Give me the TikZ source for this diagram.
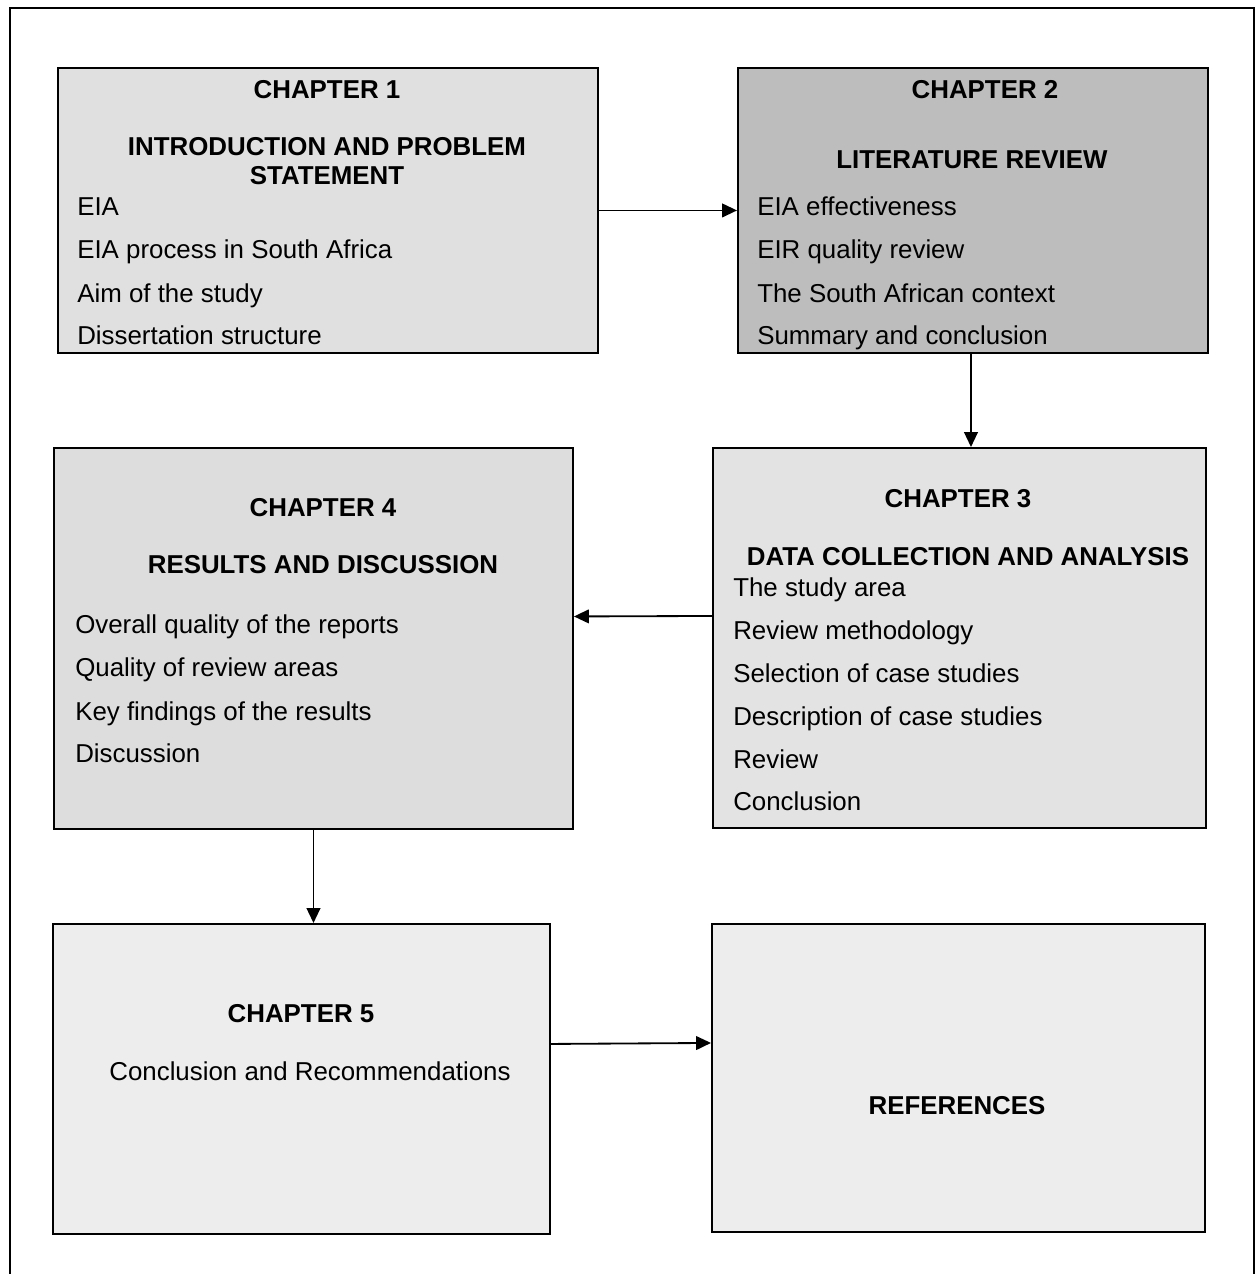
\documentclass[tikz,border=0pt]{standalone}
\usepackage{fontspec}
\setmainfont{Liberation Sans}
\usetikzlibrary{arrows.meta,positioning}

\begin{document}
\begin{tikzpicture}[
    x=0.025cm, y=-0.025cm,
    >={Triangle[length=3.7mm,width=3.4mm]},
    chap/.style={rectangle, draw=black, line width=1.3pt, anchor=north west, inner sep=0pt},
    head/.style={font=\fontsize{18.4}{19.9}\selectfont\bfseries, anchor=base, inner sep=0pt},
    item/.style={font=\fontsize{18.4}{22}\selectfont, anchor=base west, inner sep=0pt},
    link/.style={->, line width=1.3pt}
]
\useasboundingbox (0,0) rectangle (1257,1274);

% Outer frame
\draw[line width=1.3pt] (10,1274) -- (10,8) -- (1254,8) -- (1254,1274);

% Chapter boxes
\node[chap, fill=gray!24, minimum width=13.5cm, minimum height=7.125cm] (ch1) at (57,67) {};
\node[chap, fill=gray!52, minimum width=11.75cm, minimum height=7.125cm] (ch2) at (737,67) {};
\node[chap, fill=gray!22, minimum width=12.325cm, minimum height=9.5cm] (ch3) at (712,447) {};
\node[chap, fill=gray!27, minimum width=12.975cm, minimum height=9.525cm] (ch4) at (53,447) {};
\node[chap, fill=gray!14, minimum width=12.425cm, minimum height=7.75cm] (ch5) at (52,923) {};
\node[chap, fill=gray!14, minimum width=12.325cm, minimum height=7.7cm] (refs) at (711,923) {};

% Chapter 1
\node[head] (ch1a) at (327,99) {CHAPTER 1};
\node[head] (ch1b) at (327,156) {INTRODUCTION AND PROBLEM};
\node[head] (ch1c) at (327,184) {STATEMENT};
\node[item] (ch1i1) at (77,215) {EIA};
\node[item] (ch1i2) at (77,258) {EIA process in South Africa};
\node[item] (ch1i3) at (77,302) {Aim of the study};
\node[item] (ch1i4) at (77,344) {Dissertation structure};

% Chapter 2
\node[head] (ch2a) at (985,99) {CHAPTER 2};
\node[head] (ch2b) at (972,169) {LITERATURE REVIEW};
\node[item] (ch2i1) at (757,215) {EIA effectiveness};
\node[item] (ch2i2) at (757,258) {EIR quality review};
\node[item] (ch2i3) at (757,302) {The South African context};
\node[item] (ch2i4) at (757,344) {Summary and conclusion};

% Chapter 3
\node[head] (ch3a) at (958,507) {CHAPTER 3};
\node[head] (ch3b) at (968,565) {DATA COLLECTION AND ANALYSIS};
\node[item] (ch3i1) at (733,596) {The study area};
\node[item] (ch3i2) at (733,639) {Review methodology};
\node[item] (ch3i3) at (733,682) {Selection of case studies};
\node[item] (ch3i4) at (733,725) {Description of case studies};
\node[item] (ch3i5) at (733,768) {Review};
\node[item] (ch3i6) at (733,810) {Conclusion};

% Chapter 4
\node[head] (ch4a) at (323,516) {CHAPTER 4};
\node[head] (ch4b) at (323,573) {RESULTS AND DISCUSSION};
\node[item] (ch4i1) at (75,633) {Overall quality of the reports};
\node[item] (ch4i2) at (75,676) {Quality of review areas};
\node[item] (ch4i3) at (75,720) {Key findings of the results};
\node[item] (ch4i4) at (75,762) {Discussion};

% Chapter 5 and references
\node[head] (ch5a) at (301,1022) {CHAPTER 5};
\node[head, font=\fontsize{18.4}{22}\selectfont] (ch5b) at (310,1080) {Conclusion and Recommendations};
\node[head] (refsa) at (957,1114) {REFERENCES};

% Arrows
\draw[link] (ch1.east) -- (ch2.west);
\draw[link] ([xshift=-0.05cm]ch2.south) -- ([xshift=-0.05cm]ch2.south |- ch3.north);
\draw[link] ([yshift=0.55cm]ch3.west) -- ([yshift=0.55cm]ch4.east);
\draw[link] (ch4.south) -- (ch4.south |- ch5.north);
\draw[link] ([yshift=0.875cm]ch5.east) -- ([yshift=0.875cm]refs.west);

\end{tikzpicture}
\end{document}
